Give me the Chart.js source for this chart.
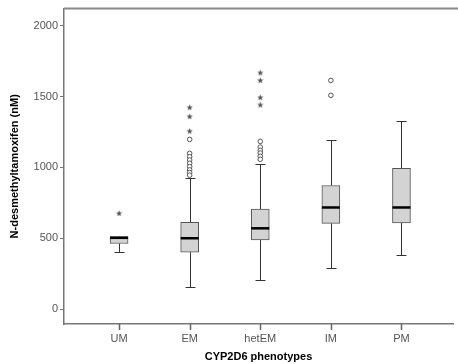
<!DOCTYPE html>
<html>
<head>
<meta charset="utf-8">
<script src="https://cdn.jsdelivr.net/npm/chart.js@4"></script>
<style>
  html, body { margin: 0; padding: 0; background: #fff; }
  #wrap { width: 458px; height: 364px; }
</style>
</head>
<body>
<div id="wrap"><canvas id="boxChart"></canvas></div>
<script>
// Box plot data (nM)
const categories = ['UM', 'EM', 'hetEM', 'IM', 'PM'];
const whiskerLow  = [400, 156, 208, 292, 384];
const q1          = [463, 402, 489, 605, 608];
const median      = [503, 500, 570, 717, 717];
const q3          = [512, 612, 705, 872, 994];
const whiskerHigh = [512, 922, 1027, 1194, 1325];
const circleOutliers = [
    [],
    [1197, 1099, 1075, 1052, 1029, 1005, 982, 963, 945],
    [1183, 1143, 1120, 1101, 1078, 1057],
    [1613, 1508],
    []
];
const starOutliers = [
    [675],
    [1422, 1358, 1255],
    [1667, 1613, 1492, 1440],
    [],
    []
];
const yTicks = [0, 500, 1000, 1500, 2000];

const FONT = 'Arial, "Liberation Sans", sans-serif';

// small filled star used for extreme values
function makeStar() {
    const c = document.createElement('canvas');
    c.width = 7; c.height = 7;
    const g = c.getContext('2d');
    g.fillStyle = '#555';
    g.beginPath();
    for (let i = 0; i < 10; i++) {
        const r = i % 2 === 0 ? 3.3 : 1.4;
        const a = -Math.PI / 2 + i * Math.PI / 5;
        const px = 3.5 + r * Math.cos(a), py = 3.6 + r * Math.sin(a);
        i === 0 ? g.moveTo(px, py) : g.lineTo(px, py);
    }
    g.closePath();
    g.fill();
    return c;
}

const toPoints = lists => lists.flatMap((vals, i) => vals.map(v => ({ x: i + 1, y: v })));

// whiskers behind the boxes; medians, frame and x tick marks drawn last
const boxExtras = {
    id: 'boxExtras',
    beforeDatasetsDraw(chart) {
        const { ctx, scales: { x, y } } = chart;
        ctx.save();
        ctx.strokeStyle = '#333';
        ctx.lineWidth = 1;
        categories.forEach((c, i) => {
            const px = Math.round(x.getPixelForValue(i + 1)) + 0.5;
            [[whiskerLow[i], q1[i]], [whiskerHigh[i], q3[i]]].forEach(([end, edge]) => {
                const pe = Math.round(y.getPixelForValue(end)) + 0.5;
                ctx.beginPath();
                ctx.moveTo(px, pe);
                ctx.lineTo(px, y.getPixelForValue(edge));
                ctx.moveTo(px - 5, pe);
                ctx.lineTo(px + 5, pe);
                ctx.stroke();
            });
        });
        ctx.restore();
    },
    afterDraw(chart) {
        const { ctx, scales: { x, y }, chartArea } = chart;
        ctx.save();
        ctx.strokeStyle = '#000';
        ctx.lineWidth = 2.5;
        categories.forEach((c, i) => {
            const px = x.getPixelForValue(i + 1);
            const py = y.getPixelForValue(median[i]);
            ctx.beginPath();
            ctx.moveTo(px - 9, py);
            ctx.lineTo(px + 9, py);
            ctx.stroke();
        });
        // frame line along the top
        ctx.strokeStyle = '#888';
        ctx.lineWidth = 2;
        ctx.beginPath();
        ctx.moveTo(chartArea.left, chartArea.top);
        ctx.lineTo(chart.width, chartArea.top);
        ctx.stroke();
        // category tick marks under the x axis
        ctx.strokeStyle = '#666';
        ctx.lineWidth = 1.5;
        ctx.beginPath();
        categories.forEach((c, i) => {
            const px = Math.round(x.getPixelForValue(i + 1)) + 0.5;
            ctx.moveTo(px, x.top);
            ctx.lineTo(px, x.top + 6);
        });
        ctx.stroke();
        ctx.restore();
    }
};

new Chart(document.getElementById('boxChart'), {
    type: 'bar',
    data: {
        datasets: [
            {
                label: 'IQR',
                data: categories.map((c, i) => ({ x: i + 1, y: [q1[i], q3[i]] })),
                backgroundColor: '#d3d3d3',
                borderColor: '#555',
                borderWidth: 1,
                borderSkipped: false,
                barThickness: 18,
                order: 2
            },
            {
                type: 'scatter',
                label: 'Outliers',
                data: toPoints(circleOutliers),
                pointStyle: 'circle',
                pointRadius: 2.3,
                backgroundColor: '#fff',
                borderColor: '#555',
                borderWidth: 1,
                order: 1
            },
            {
                type: 'scatter',
                label: 'Extremes',
                data: toPoints(starOutliers),
                pointStyle: makeStar(),
                order: 1
            }
        ]
    },
    options: {
        responsive: true, maintainAspectRatio: false,
        animation: false,
        layout: { padding: { top: 7, right: -4, left: 0, bottom: 0 } },
        scales: {
            x: {
                type: 'linear', min: 0.22, max: 5.73, offset: false,
                afterBuildTicks: s => { s.ticks = categories.map((c, i) => ({ value: i + 1 })); },
                afterFit: s => { s.height = 40; },
                ticks: {
                    callback: v => categories[Math.round(v) - 1],
                    autoSkip: false, maxRotation: 0, padding: 3,
                    color: '#555', font: { size: 11, family: FONT }
                },
                grid: { offset: false, drawOnChartArea: false, drawTicks: true, tickLength: 5, color: 'rgba(0,0,0,0)' },
                border: { display: true, color: '#777', width: 1.5 },
                title: {
                    display: true, text: 'CYP2D6 phenotypes', color: '#000',
                    font: { size: 11, weight: 'bold', family: FONT },
                    padding: { top: 0, bottom: 0 }
                }
            },
            y: {
                type: 'linear', min: -105, max: 2120,
                afterBuildTicks: s => { s.ticks = yTicks.map(v => ({ value: v })); },
                afterFit: s => { s.width = 64; },
                ticks: { callback: v => String(v), padding: 2, color: '#555', font: { size: 11, family: FONT } },
                grid: { drawOnChartArea: false, drawTicks: true, tickLength: 4, color: '#777' },
                border: { color: '#777', width: 1.5 },
                title: {
                    display: true, text: 'N-desmethyltamoxifen (nM)', color: '#000',
                    font: { size: 11, weight: 'bold', family: FONT },
                    padding: { top: 8, bottom: 0 }
                }
            }
        },
        plugins: {
            legend: { display: false },
            tooltip: { enabled: false }
        }
    },
    plugins: [boxExtras]
});
</script>
</body>
</html>
